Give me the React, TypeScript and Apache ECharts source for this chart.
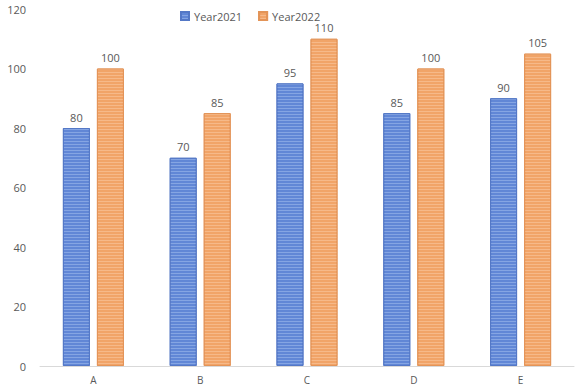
import React, { useEffect, useRef } from "react";
import * as echarts from "echarts";

const categories = ["A", "B", "C", "D", "E"];
const year2021 = [80, 70, 95, 85, 90];
const year2022 = [100, 85, 110, 100, 105];
const seriesNames = ["Year2021", "Year2022"];

export default function App() {
  const ref = useRef<HTMLDivElement>(null);
  useEffect(() => {
    if (!ref.current) return;
    const chart = echarts.init(ref.current, undefined, { renderer: "svg" });
    const stripe = (c: string) => ({
      symbol: "rect",
      dashArrayX: [1, 0],
      dashArrayY: [1, 2],
      symbolSize: 1,
      color: c,
      rotation: 0,
    });
    const label = {
      show: true,
      position: "top",
      color: "#595959",
      fontSize: 11,
      lineHeight: 12,
      fontFamily: "Open Sans",
      distance: 5,
    };
    chart.setOption({
      animation: false,
      backgroundColor: "#fff",
      legend: {
        top: 10,
        left: 180,
        padding: 0,
        itemWidth: 8,
        itemHeight: 8,
        itemGap: 16,
        icon: "rect",
        textStyle: { color: "#595959", fontSize: 11, lineHeight: 12, fontFamily: "Open Sans" },
        data: seriesNames,
      },
      grid: { left: 40, right: 3, top: 9, bottom: 26 },
      xAxis: {
        type: "category",
        data: categories,
        axisLine: { lineStyle: { color: "#d9d9d9", width: 1 } },
        axisTick: { show: false },
        axisLabel: { color: "#595959", fontSize: 10, fontFamily: "Open Sans", margin: 9 },
      },
      yAxis: {
        type: "value",
        min: 0,
        max: 120,
        interval: 20,
        splitLine: { show: false },
        axisLine: { show: false },
        axisTick: { show: false },
        axisLabel: { color: "#595959", fontSize: 11, fontFamily: "Open Sans", margin: 14 },
      },
      series: [
        {
          name: seriesNames[0],
          type: "bar",
          data: year2021,
          barWidth: 27,
          barGap: "26%",
          itemStyle: {
            color: "#6187d6",
            borderColor: "#5478c6",
            borderWidth: 1,
            decal: stripe("rgba(170,195,240,0.5)"),
          },
          label,
        },
        {
          name: seriesNames[1],
          type: "bar",
          data: year2022,
          barWidth: 27,
          barGap: "26%",
          itemStyle: {
            color: "#f1a468",
            borderColor: "#e39458",
            borderWidth: 1,
            decal: stripe("rgba(252,205,170,0.5)"),
          },
          label,
        },
      ],
    });
    return () => chart.dispose();
  }, []);
  return <div ref={ref} style={{ width: 577, height: 392, position: "absolute", left: 0, top: 0 }} />;
}
